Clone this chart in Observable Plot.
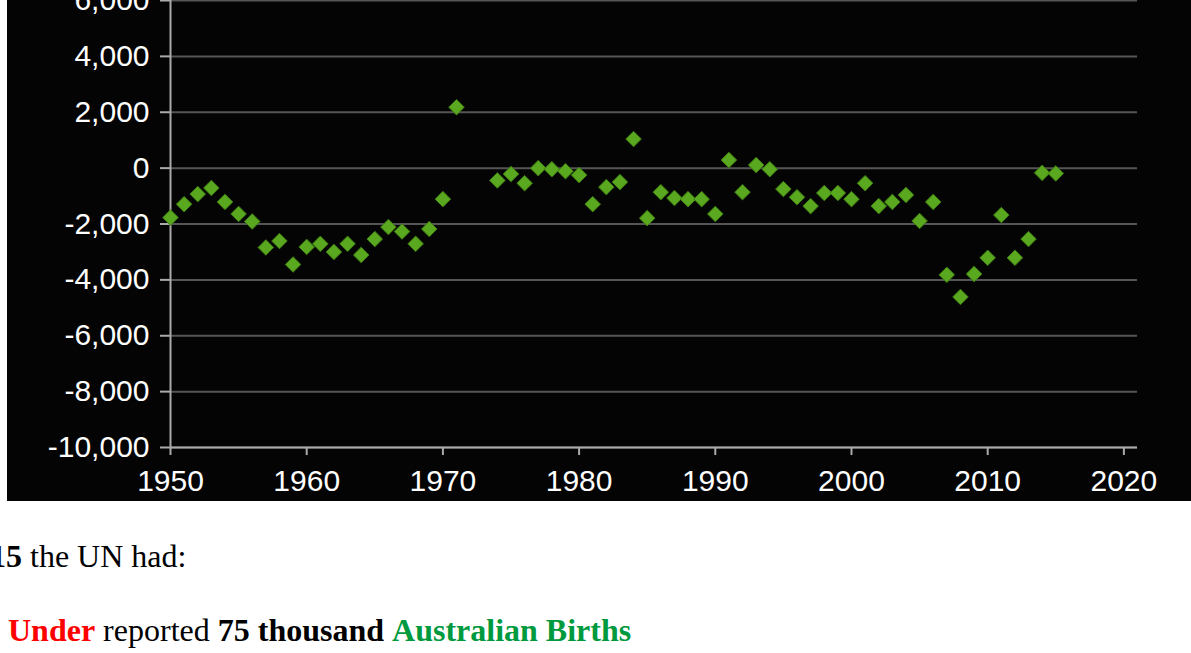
<!DOCTYPE html>
<html>
<head>
<meta charset="utf-8">
<script src="https://cdn.jsdelivr.net/npm/d3@7"></script>
<script src="https://cdn.jsdelivr.net/npm/@observablehq/plot@0.6"></script>
<style>
body{margin:0;background:#fff;width:1191px;height:653px;overflow:hidden;position:relative;}
#chart{position:absolute;left:7px;top:0;width:1184px;height:501px;background:#040404;overflow:hidden;}
#chart svg{position:absolute;left:0;top:-20px;}
.line{position:absolute;font-family:"Liberation Serif","Times New Roman",serif;font-size:32px;line-height:32px;white-space:nowrap;color:#000;}
</style>
</head>
<body>
<div id="chart"></div>
<div class="line" style="left:-10px;top:540px;"><b>15</b> the UN had:</div>
<div class="line" style="left:8px;top:614px;"><b style="color:#ff0000">Under</b> reported <b>75 thousand</b> <b style="color:#009a3e">Australian Births</b></div>
<script>
const years = [1950,1951,1952,1953,1954,1955,1956,1957,1958,1959,
  1960,1961,1962,1963,1964,1965,1966,1967,1968,1969,
  1970,1971,1974,1975,1976,1977,1978,1979,
  1980,1981,1982,1983,1984,1985,1986,1987,1988,1989,
  1990,1991,1992,1993,1994,1995,1996,1997,1998,1999,
  2000,2001,2002,2003,2004,2005,2006,2007,2008,2009,
  2010,2011,2012,2013,2014,2015];
const values = [-1770,-1290,-930,-710,-1210,-1640,-1910,-2840,-2610,-3450,
  -2820,-2710,-3000,-2710,-3110,-2540,-2110,-2270,-2710,-2180,
  -1110,2180,-440,-210,-540,0,-40,-110,
  -250,-1290,-680,-500,1040,-1790,-860,-1070,-1110,-1110,
  -1640,290,-860,110,-40,-750,-1040,-1360,-890,-890,
  -1110,-540,-1360,-1210,-960,-1890,-1210,-3820,-4610,-3790,
  -3210,-1680,-3210,-2540,-170,-190];
const yTicks = [-10000,-8000,-6000,-4000,-2000,0,2000,4000,6000];
const xTicks = [1950,1960,1970,1980,1990,2000,2010,2020];

const data = years.map((y, i) => ({year: y, value: values[i]}));
const fmtY = d => (d < 0 ? "-" : "") + Math.abs(d).toLocaleString("en-US");

const chart = Plot.plot({
  width: 1184,
  height: 521,
  marginTop: 20,
  marginBottom: 54,
  marginLeft: 163,
  marginRight: 54,
  style: {background: "transparent", color: "white", fontFamily: "'Liberation Sans', Arial, sans-serif", fontSize: "30px"},
  x: {domain: [1950, 2021], label: null},
  y: {domain: [-10000, 6000], label: null},
  marks: [
    Plot.gridY(yTicks, {stroke: "#555", strokeOpacity: 1, strokeWidth: 2}),
    Plot.ruleX([1950], {stroke: "#aaa", strokeWidth: 2}),
    Plot.ruleY([-10000], {stroke: "#aaa", strokeWidth: 2}),
    Plot.axisY(yTicks, {tickSize: 10, tickPadding: 11, stroke: "#aaa", strokeWidth: 2, fill: "white", tickFormat: fmtY, label: null}),
    Plot.axisX(xTicks, {tickSize: 8, tickPadding: 14, stroke: "#aaa", strokeWidth: 2, fill: "white", tickFormat: d => String(d), label: null}),
    Plot.dot(data, {x: "year", y: "value", symbol: "diamond2", r: 7, fill: "#5aa81f", stroke: "#3e7d12", strokeWidth: 1})
  ]
});
document.getElementById("chart").appendChild(chart);
</script>
</body>
</html>
